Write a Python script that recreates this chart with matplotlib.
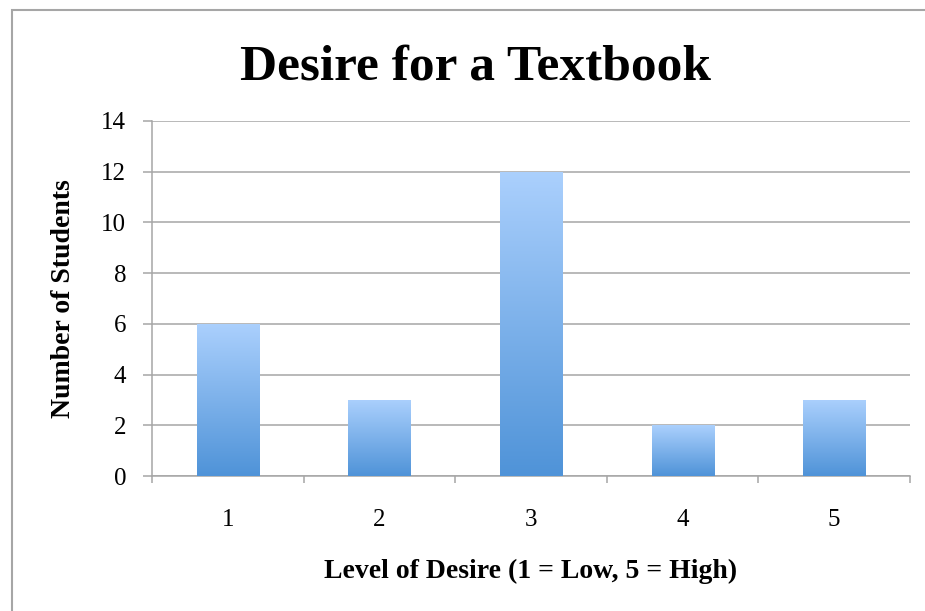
import matplotlib
matplotlib.use('Agg')
from matplotlib import pyplot as plt
from matplotlib.colors import LinearSegmentedColormap
from matplotlib.patches import Rectangle
import numpy as np

levels = ['1', '2', '3', '4', '5']
students = [6, 3, 12, 2, 3]
yticks = [0, 2, 4, 6, 8, 10, 12, 14]

plt.rcParams['font.family'] = ['Liberation Serif', 'DejaVu Serif']

fig = plt.figure(figsize=(9.25, 6.11), dpi=100)
ax = fig.add_axes([0.1643, 0.2209, 0.8195, 0.5811])

grey = '#a6a6a6'
x = np.arange(len(levels))
bars = ax.bar(x, students, width=0.41, color='none', zorder=3)

# vertical gradient in each bar, light at top, darker at bottom
cmap = LinearSegmentedColormap.from_list('blu', ['#4f93d8', '#abd0fd'])
grad = np.linspace(0, 1, 256).reshape(-1, 1)
for b in bars:
    x0, w, h = b.get_x(), b.get_width(), b.get_height()
    im = ax.imshow(grad, cmap=cmap, origin='lower', aspect='auto',
                   extent=[x0, x0 + w, 0, h], zorder=3)
    im.set_clip_path(b)

ax.set_xlim(-0.5, len(levels) - 0.5)
ax.set_ylim(0, 14)
ax.set_yticks(yticks)
ax.set_xticks(x)
ax.set_xticklabels(levels)
ax.set_xticks(np.arange(len(levels) + 1) - 0.5, minor=True)

ax.grid(axis='y', color=grey, linewidth=1.1, zorder=0)
for s in ['top', 'right']:
    ax.spines[s].set_visible(False)
for s in ['left', 'bottom']:
    ax.spines[s].set_color(grey)
    ax.spines[s].set_linewidth(1.1)

ax.tick_params(axis='y', length=6.5, width=1.1, color=grey, pad=12, labelsize=18)
ax.tick_params(axis='x', which='major', length=0, pad=24, labelsize=18)
ax.tick_params(axis='x', which='minor', length=5, width=1.1, color=grey)

fig.text(475 / 925, 1 - 80 / 611, 'Desire for a Textbook', fontsize=37,
         fontweight='bold', ha='center', va='baseline')
ax.set_xlabel('Level of Desire (1 = Low, 5 = High)', fontsize=20, fontweight='bold')
ax.set_ylabel('Number of Students', fontsize=20, fontweight='bold')
ax.xaxis.label.set_va('center')
ax.yaxis.label.set_va('center')
ax.xaxis.set_label_coords(0.5, -0.268)
ax.yaxis.set_label_coords(-0.117, 0.5)

# chart frame (runs off the right and bottom edges)
fig.add_artist(Rectangle((12 / 925, -0.1), 1.2, 1.1 - 10 / 611,
                         transform=fig.transFigure, fill=False,
                         edgecolor=grey, linewidth=1.5))

fig.savefig('out.png', dpi=100)
